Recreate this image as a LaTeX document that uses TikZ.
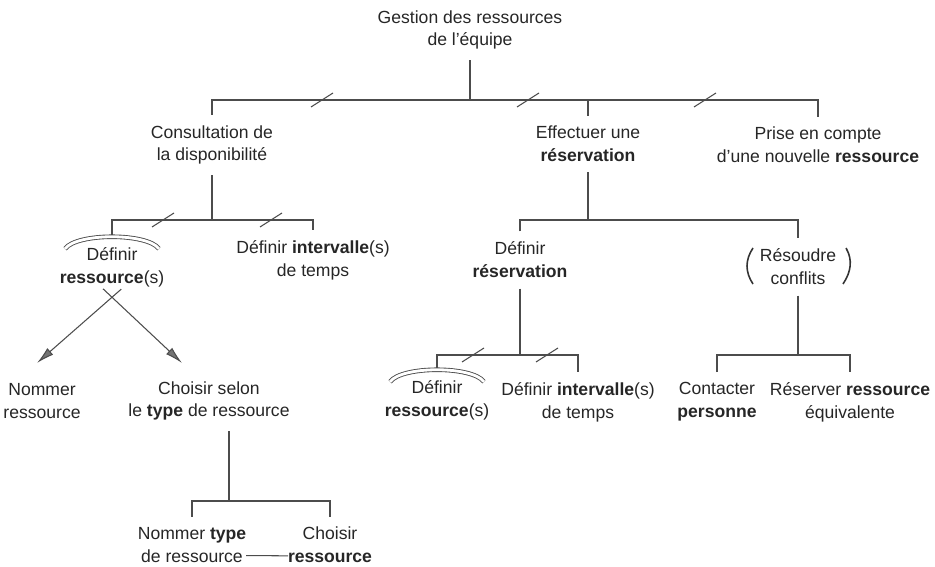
\documentclass[tikz,border=0pt]{standalone}
\usepackage{fontspec}
\setmainfont{Liberation Sans}
\usetikzlibrary{arrows.meta}

\begin{document}
\begin{tikzpicture}[x=0.02cm,y=-0.02cm,
	txt/.style={align=center,inner sep=1pt,outer sep=5pt,text=black!85,font=\fontsize{10}{13}\selectfont},
	link/.style={black!70,line width=0.6pt},
	hood/.style={black!70,double,double distance=1.6pt,line width=0.5pt},
	paren/.style={black!80,line width=0.9pt},
	arr/.style={link,shorten <=-7pt,-{Latex[length=10pt,width=5pt,fill=black!55]}}]
	\useasboundingbox (0,0) rectangle (935,567);

	\node[txt] (root) at (470,30) {Gestion des ressources\\de l'équipe};

	\node[txt] (cons) at (212,145) {Consultation de\\la disponibilité};
	\node[txt] (eff) at (588,144) {Effectuer une\\\textbf{réservation}};
	\node[txt] (prise) at (818,145) {Prise en compte\\d'une nouvelle \textbf{ressource}};

	\node[txt] (defres1) at (112,267) {Définir\\\textbf{ressource}(s)};
	\node[txt] (defint1) at (313,260) {Définir \textbf{intervalle}(s)\\de temps};
	\node[txt] (defresv) at (520,260) {Définir\\\textbf{réservation}};
	\node[txt] (resoudre) at (798,267) {Résoudre\\conflits};

	\node[txt] (nommer) at (42,401) {Nommer\\ressource};
	\node[txt] (choisir) at (209,401) {Choisir selon\\le \textbf{type} de ressource};
	\node[txt] (defres2) at (437,400) {Définir\\\textbf{ressource}(s)};
	\node[txt] (defint2) at (578,402) {Définir \textbf{intervalle}(s)\\de temps};
	\node[txt] (contact) at (717,402) {Contacter\\\textbf{personne}};
	\node[txt] (reserver) at (850,402) {Réserver \textbf{ressource}\\équivalente};

	\node[txt] (ntype) at (192,545) {Nommer \textbf{type}\\de ressource};
	\node[txt] (chres) at (330,545) {Choisir\\\textbf{ressource}};

	\coordinate (l1) at (0,100);
	\coordinate (l2) at (0,220);
	\coordinate (l3) at (0,355);
	\coordinate (l4) at (0,501);
	\coordinate (t1) at (37,363);
	\coordinate (t2) at (182,363);

	\draw[link] (root.south) -- (root.south |- l1);
	\draw[link] (cons.north) -- (cons.north |- l1) -- (prise.north |- l1) -- (prise.north);
	\draw[link] (eff.north) -- (eff.north |- l1);

	\draw[link] (cons.south) -- (cons.south |- l2);
	\draw[link] (defres1.north) -- (defres1.north |- l2) -- (defint1.north |- l2) -- (defint1.north);

	\draw[link] (eff.south) -- (eff.south |- l2);
	\draw[link] (defresv.north) -- (defresv.north |- l2) -- (resoudre.north |- l2) -- (resoudre.north);

	\draw[link] (defresv.south) -- (defresv.south |- l3);
	\draw[link] (defres2.north) -- (defres2.north |- l3) -- (defint2.north |- l3) -- (defint2.north);

	\draw[link] (resoudre.south) -- (resoudre.south |- l3);
	\draw[link] (contact.north) -- (contact.north |- l3) -- (reserver.north |- l3) -- (reserver.north);

	\draw[link] ([xshift=0.4cm]choisir.south) -- ([xshift=0.4cm]choisir.south |- l4);
	\draw[link] (ntype.north) -- (ntype.north |- l4) -- (chres.north |- l4) -- (chres.north);
	\draw[link] ([xshift=-6pt,yshift=10pt]ntype.south east) -- ([xshift=6pt,yshift=10pt]chres.south west);

	\draw[arr] (defres1.south) -- (t1);
	\draw[arr] (defres1.south) -- (t2);

	\foreach \x/\y in {322/100,528/100,705/100,163/220,271/220,473/355,547/355}
	{
		\draw[link] (\x-11,\y+7) -- (\x+11,\y-7);
	}

	\foreach \n in {defres1,defres2}
	{
		\draw[hood] ([shift={(-47,12)}]\n.north) .. controls ([shift={(-35,-4)}]\n.north) and ([shift={(35,-4)}]\n.north) .. ([shift={(47,12)}]\n.north);
	}

	\draw[paren] ([shift={(-45,-19)}]resoudre.center) .. controls ([shift={(-53,-7)}]resoudre.center) and ([shift={(-53,5)}]resoudre.center) .. ([shift={(-45,17)}]resoudre.center);
	\draw[paren] ([shift={(48,-19)}]resoudre.center) .. controls ([shift={(55,-7)}]resoudre.center) and ([shift={(53,5)}]resoudre.center) .. ([shift={(45,17)}]resoudre.center);

\end{tikzpicture}
\end{document}
